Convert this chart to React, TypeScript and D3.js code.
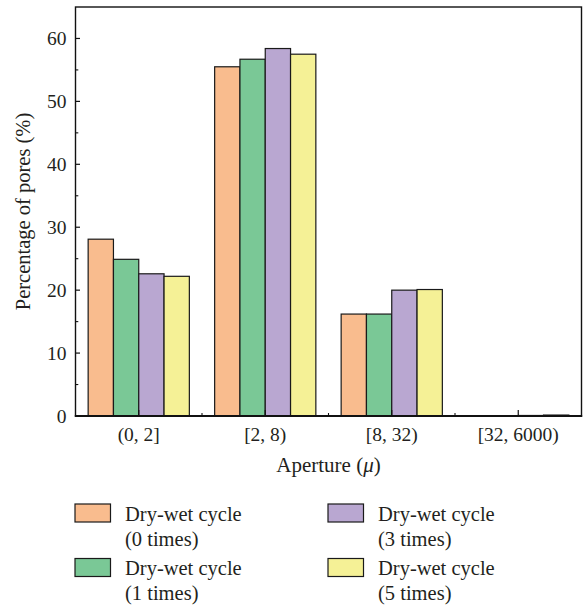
import React from "react";
import * as d3 from "d3";

const categories = ["(0, 2]", "[2, 8)", "[8, 32)", "[32, 6000)"];
const seriesNames = ["0 times", "1 times", "3 times", "5 times"];
const cycle0 = [28.1, 55.5, 16.2, 0.05];
const cycle1 = [24.9, 56.7, 16.2, 0.05];
const cycle3 = [22.6, 58.4, 20.0, 0.08];
const cycle5 = [22.2, 57.5, 20.1, 0.15];
const yTicks = [0, 10, 20, 30, 40, 50, 60];
const colors = ["#f9bc8e", "#7ac896", "#b9a7d1", "#f5f196"];

const series = [cycle0, cycle1, cycle3, cycle5];

const W = 586;
const H = 607;
const margin = { top: 7, right: 4.5, bottom: 191, left: 75.5 };
const font = "'Liberation Serif', 'DejaVu Serif', serif";

export default function App() {
  const x = d3
    .scaleBand<string>()
    .domain(categories)
    .range([margin.left, W - margin.right])
    .paddingInner(0.2)
    .paddingOuter(0.1);

  const x1 = d3
    .scaleBand<string>()
    .domain(seriesNames)
    .range([0, x.bandwidth()]);

  const y = d3
    .scaleLinear()
    .domain([0, 65])
    .range([H - margin.bottom, margin.top]);

  const minorY = d3.range(5, 65, 10);
  const step = x.step();
  const minorX = categories.slice(1).map((c) => (x(c) as number) + x.bandwidth() / 2 - step / 2);

  const x0 = margin.left;
  const xEnd = W - margin.right;
  const y0 = y(0);
  const yTop = y(65);

  return (
    <svg
      width={W}
      height={H}
      style={{ position: "absolute", left: 0, top: 0, background: "#fff" }}
      fontFamily={font}
    >
      {/* bars */}
      {categories.map((c, ci) => (
        <g key={c} transform={`translate(${x(c)},0)`}>
          {series.map((s, si) => (
            <rect
              key={si}
              x={x1(seriesNames[si])}
              y={y(s[ci])}
              width={x1.bandwidth()}
              height={y0 - y(s[ci])}
              fill={colors[si]}
              stroke="#1a1a1a"
              strokeWidth={1.2}
            />
          ))}
        </g>
      ))}

      {/* frame */}
      <rect x={x0} y={yTop} width={xEnd - x0} height={y0 - yTop} fill="none" stroke="#111" strokeWidth={1.4} />
      <line x1={x0 - 0.7} x2={xEnd + 0.7} y1={y0} y2={y0} stroke="#111" strokeWidth={2} />

      {/* y ticks */}
      {yTicks.map((t) => (
        <g key={t}>
          <line x1={x0} x2={x0 + 4.5} y1={y(t)} y2={y(t)} stroke="#111" strokeWidth={1.2} />
          <text x={x0 - 9} y={y(t) + 6.5} textAnchor="end" fontSize={19.5} fill="#231f20">
            {t}
          </text>
        </g>
      ))}
      {minorY.map((t) => (
        <line key={t} x1={x0} x2={x0 + 2.8} y1={y(t)} y2={y(t)} stroke="#111" strokeWidth={1.1} />
      ))}

      {/* x ticks */}
      {categories.map((c) => {
        const cx = (x(c) as number) + x.bandwidth() / 2;
        return (
          <g key={c}>
            <line x1={cx} x2={cx} y1={y0} y2={y0 - 6} stroke="#111" strokeWidth={1.2} />
            <text x={cx} y={y0 + 25} textAnchor="middle" fontSize={19.5} fill="#231f20">
              {c}
            </text>
          </g>
        );
      })}
      {minorX.map((mx, i) => (
        <line key={i} x1={mx} x2={mx} y1={y0} y2={y0 - 3} stroke="#111" strokeWidth={1.1} />
      ))}

      {/* axis titles */}
      <text x={(x0 + xEnd) / 2} y={472} textAnchor="middle" fontSize={21} fill="#231f20">
        Aperture (<tspan fontStyle="italic">μ</tspan>)
      </text>
      <text
        transform={`translate(30,${(y0 + yTop) / 2}) rotate(-90)`}
        textAnchor="middle"
        fontSize={20.5}
        fill="#231f20"
      >
        Percentage of pores (%)
      </text>

      {/* legend */}
      {seriesNames.map((n, i) => {
        const col = Math.floor(i / 2);
        const row = i % 2;
        const lx = 75 + col * 253;
        const ly = 504 + row * 54.5;
        return (
          <g key={n}>
            <rect x={lx} y={ly} width={35.5} height={18} fill={colors[i]} stroke="#1a1a1a" strokeWidth={1.2} />
            <text x={lx + 50} y={ly + 16.5} fontSize={20.5} fill="#231f20">
              Dry-wet cycle
            </text>
            <text x={lx + 50} y={ly + 41.5} fontSize={20.5} fill="#231f20">
              ({n})
            </text>
          </g>
        );
      })}
    </svg>
  );
}
